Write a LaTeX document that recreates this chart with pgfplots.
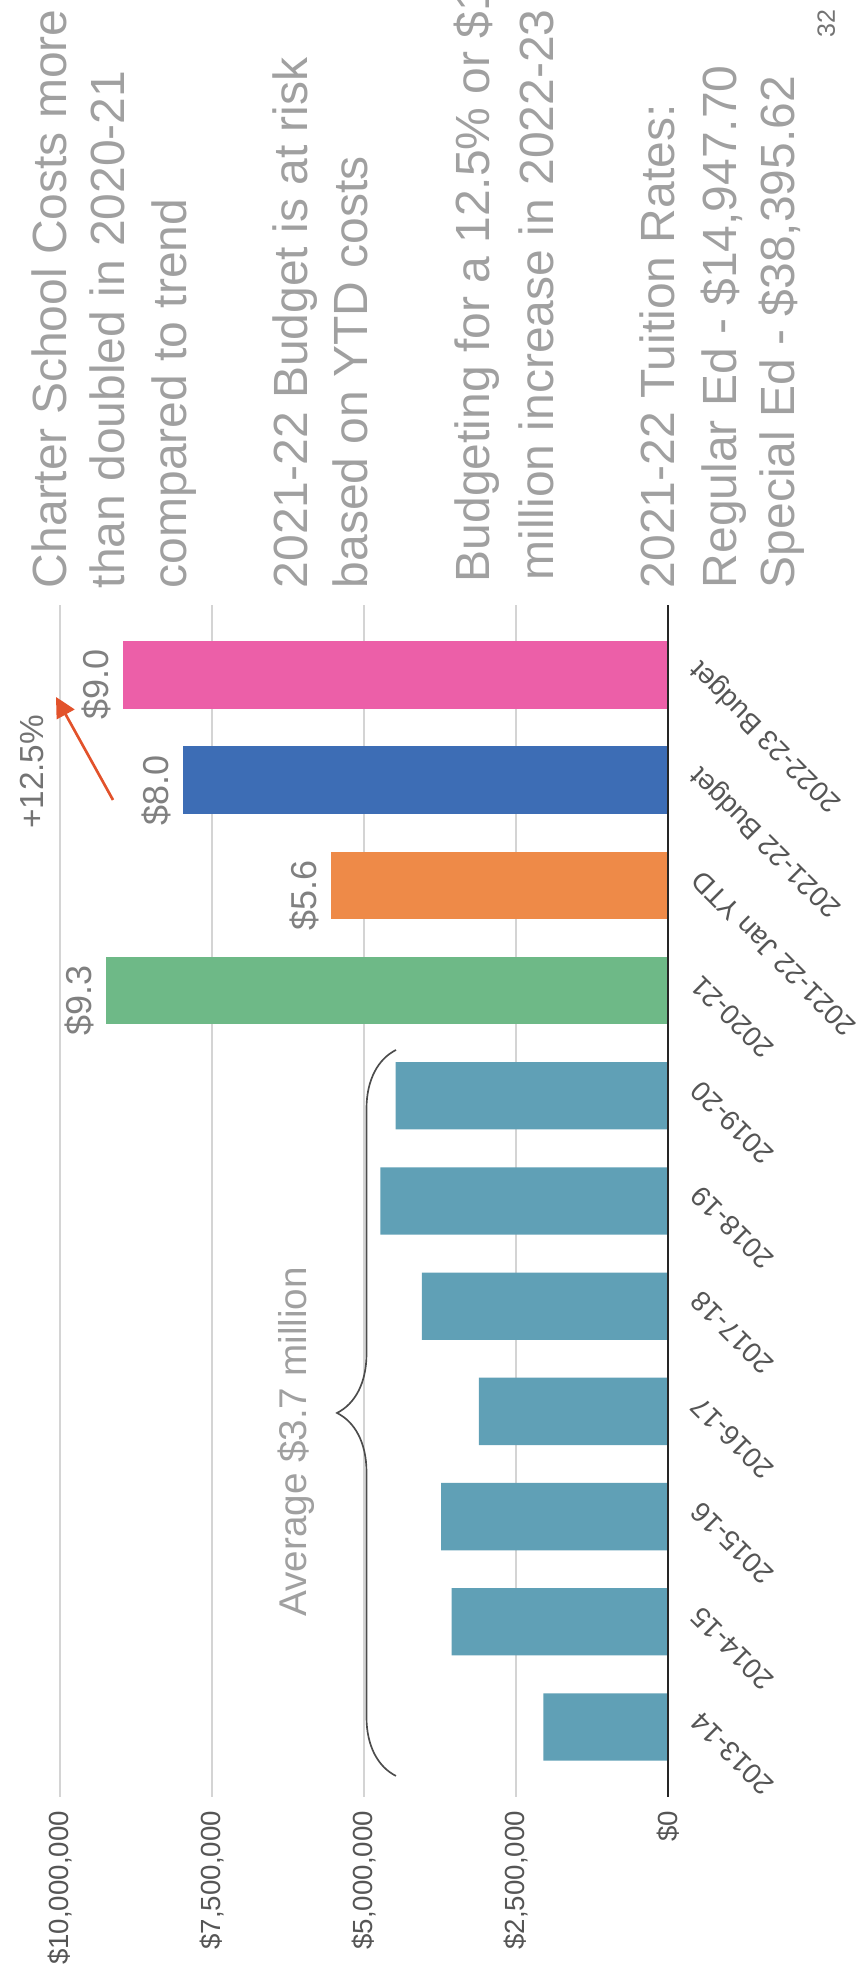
\documentclass[border=0pt]{standalone}
\usepackage{fontspec}
\setmainfont{Liberation Sans}
\usepackage{pgfplots}
\pgfplotsset{compat=1.18}
\usetikzlibrary{decorations.pathreplacing, arrows.meta}
\definecolor{barteal}{HTML}{60A0B6}
\definecolor{bargreen}{HTML}{6EB987}
\definecolor{barorange}{HTML}{EE8A48}
\definecolor{barblue}{HTML}{3D6DB5}
\definecolor{barpink}{HTML}{EC5FA8}
\definecolor{txtgray}{HTML}{A0A0A0}
\definecolor{lblgray}{HTML}{555555}
\definecolor{valgray}{HTML}{808080}
\definecolor{arrowred}{HTML}{E2522B}
\begin{document}
\begin{tikzpicture}
\useasboundingbox (0,0) rectangle (257.1bp,595.8bp);
\begin{axis}[
  at={(109.2bp,235.5bp)}, anchor=center,
  scale only axis, width=182.4bp, height=357.6bp,
  xbar, bar width=0.64,
  x dir=reverse,
  xmin=0, xmax=10000000,
  ymin=-0.665, ymax=10.665,
  axis line style={draw=none},
  xtick={0,2500000,5000000,7500000,10000000},
  xticklabels={{\$0},{\$2,500,000},{\$5,000,000},{\$7,500,000},{\$10,000,000}},
  scaled x ticks=false,
  xmajorgrids,
  major grid style={black!17, line width=0.35bp},
  ytick={0,1,2,3,4,5,6,7,8,9,10},
  yticklabels={2013-14,2014-15,2015-16,2016-17,2017-18,2018-19,2019-20,2020-21,2021-22 Jan YTD,2021-22 Budget,2022-23 Budget},
  yticklabel pos=right,
  tick style={draw=none},
  xticklabel style={yshift=-4bp, rotate=90, anchor=east, inner sep=0pt, font=\fontsize{8.3bp}{10bp}\selectfont, text=lblgray},
  yticklabel style={xshift=4bp, yshift=3bp, rotate=135, anchor=east, inner sep=0pt, font=\fontsize{8.4bp}{10bp}\selectfont, text=lblgray},
  clip=false,
]
\addplot[fill=barteal, draw=none, bar shift=0pt] coordinates {(2050000,0) (3560000,1) (3730000,2) (3110000,3) (4050000,4) (4730000,5) (4480000,6)};
\addplot[fill=bargreen, draw=none, bar shift=0pt] coordinates {(9250000,7)};
\addplot[fill=barorange, draw=none, bar shift=0pt] coordinates {(5550000,8)};
\addplot[fill=barblue, draw=none, bar shift=0pt] coordinates {(7980000,9)};
\addplot[fill=barpink, draw=none, bar shift=0pt] coordinates {(8960000,10)};
\draw[black!85, line width=0.6bp] (axis cs:0,-0.665) -- (axis cs:0,10.665);
\node[rotate=90, anchor=south, font=\fontsize{10.8bp}{12bp}\selectfont, text=valgray] at ([yshift=-3bp]axis cs:9250000,7) {\$9.3};
\node[rotate=90, anchor=south, font=\fontsize{10.8bp}{12bp}\selectfont, text=valgray] at ([yshift=-3bp]axis cs:5550000,8) {\$5.6};
\node[rotate=90, anchor=south, font=\fontsize{10.8bp}{12bp}\selectfont, text=valgray] at ([yshift=-3bp]axis cs:7980000,9) {\$8.0};
\node[rotate=90, anchor=south, font=\fontsize{10.8bp}{12bp}\selectfont, text=valgray] at ([yshift=-3bp]axis cs:8960000,10) {\$9.0};
\end{axis}
\begin{scope}[x=0.3bp, y=-0.3bp, yshift=595.8bp]
\tikzset{tb/.style={rotate=90, anchor=base west, inner sep=0pt, font=\fontsize{14.4bp}{16bp}\selectfont, text=txtgray}}
\node[tb] at (67,589) {Charter School Costs more};
\node[tb] at (125,589) {than doubled in 2020-21};
\node[tb] at (187,589) {compared to trend};
\node[tb] at (308,589) {2021-22 Budget is at risk};
\node[tb] at (368,589) {based on YTD costs};
\node[tb] at (490,583) {Budgeting for a 12.5\% or \$1};
\node[tb] at (554,581) {million increase in 2022-23};
\node[tb] at (675,589) {2021-22 Tuition Rates:};
\node[tb] at (737,589) {Regular Ed - \$14,947.70};
\node[tb] at (795,589) {Special Ed - \$38,395.62};
\node[rotate=90, anchor=base west, inner sep=0pt, font=\fontsize{7.5bp}{9bp}\selectfont, text=black!55] at (835,38) {32};
\node[rotate=90, anchor=center, inner sep=0pt, font=\fontsize{10bp}{12bp}\selectfont, text=black!55] at (32,772) {+12.5\%};
\draw[arrowred, line width=0.8bp, -{Triangle[length=6bp,width=6bp]}] (113,800) -- (56,697);
\node[rotate=90, anchor=base, inner sep=0pt, font=\fontsize{11.6bp}{13bp}\selectfont, text=txtgray] at (307,1442) {Average \$3.7 million};
\draw[black!70, line width=0.5bp, decorate, decoration={brace, amplitude=17.7bp}] (396,1776) -- (396,1050);
\end{scope}
\end{tikzpicture}
\end{document}
